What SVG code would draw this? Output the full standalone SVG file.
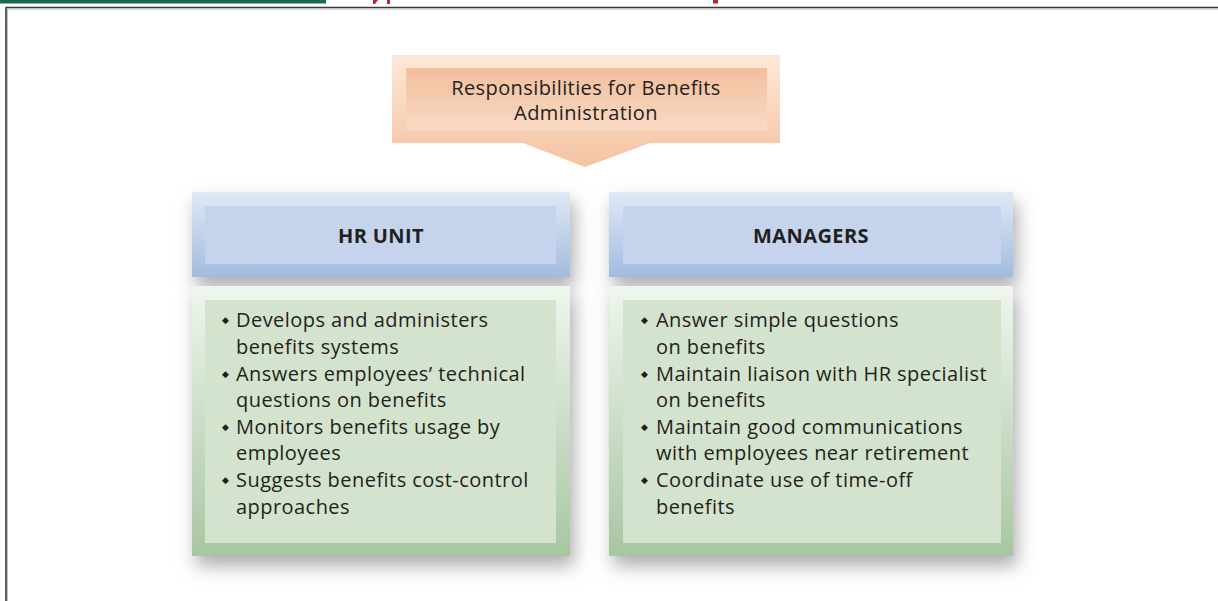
<svg xmlns="http://www.w3.org/2000/svg" width="1218" height="601" viewBox="0 0 1218 601">
<defs>
<style>
.t{font-family:"Open Sans","Liberation Sans",sans-serif;fill:#231f20}
.body{font-size:20px;letter-spacing:0.45px}
.hd{font-size:20px;font-weight:bold;text-anchor:middle;letter-spacing:0.4px}
.bul{font-family:"DejaVu Sans",sans-serif;font-size:9px;fill:#231f20}
</style>
<linearGradient id="gPeach" x1="0" y1="0" x2="0" y2="1">
<stop offset="0" stop-color="#fde8d8"/><stop offset="1" stop-color="#f4c3a1"/>
</linearGradient>
<linearGradient id="gPeachIn" x1="0" y1="0" x2="0" y2="1">
<stop offset="0" stop-color="#f3bf9c"/><stop offset="1" stop-color="#f8d9c4"/>
</linearGradient>
<linearGradient id="gBlue" x1="0" y1="0" x2="0" y2="1">
<stop offset="0" stop-color="#dfe9f5"/><stop offset="1" stop-color="#a2bcdf"/>
</linearGradient>
<linearGradient id="gGreen" x1="0" y1="0" x2="0" y2="1">
<stop offset="0" stop-color="#eff6ee"/><stop offset="1" stop-color="#a8c6a2"/>
</linearGradient>
<filter id="sh" x="-15%" y="-15%" width="135%" height="150%">
<feDropShadow dx="4" dy="10" stdDeviation="9" flood-color="#6b6b6b" flood-opacity="0.55"/>
</filter>
</defs>
<rect width="1218" height="601" fill="#ffffff"/>
<g id="frame">
<rect x="0" y="0" width="326" height="3.5" fill="#1a6b48"/>
<path d="M373,0 L378,0 L375,4 L373,4 Z" fill="#b5282e"/>
<rect x="387" y="0" width="3" height="4" fill="#b5282e"/>
<rect x="713" y="0" width="5" height="3.5" fill="#b5282e"/>
<path d="M6,601 L6,7.5 L1218,7.5" fill="none" stroke="#3a3a3a" stroke-width="1.6"/>
<path d="M7.5,601 L7.5,9 L1218,9" fill="none" stroke="#b0b0b0" stroke-width="0.8"/>
</g>
<g id="top">
<path d="M392,55 L780,55 L780,143 L650,143 L585,167 L523,143 L392,143 Z" fill="url(#gPeach)"/>
<rect x="406" y="68" width="361" height="62" fill="url(#gPeachIn)"/>
<text class="t" font-size="20" letter-spacing="0.4" text-anchor="middle"><tspan x="586" y="95">Responsibilities for Benefits</tspan><tspan x="586" y="120">Administration</tspan></text>
</g>
<g id="hr-header">
<rect x="192" y="192" width="378" height="85" fill="url(#gBlue)" filter="url(#sh)"/>
<rect x="205" y="206" width="351" height="58" fill="#c5d3ed"/>
<text class="t hd" x="381" y="243">HR UNIT</text>
</g>
<g id="mgr-header">
<rect x="609" y="192" width="404" height="85" fill="url(#gBlue)" filter="url(#sh)"/>
<rect x="623" y="206" width="378" height="58" fill="#c5d3ed"/>
<text class="t hd" x="811" y="243">MANAGERS</text>
</g>
<g id="hr-body">
<rect x="192" y="286" width="378" height="270" fill="url(#gGreen)" filter="url(#sh)"/>
<rect x="205" y="300" width="351" height="243" fill="#d4e3cd"/>
<text class="bul" x="222" y="323">◆</text>
<text class="bul" x="222" y="377">◆</text>
<text class="bul" x="222" y="430">◆</text>
<text class="bul" x="222" y="483">◆</text>
<text class="t body"><tspan x="236" y="327">Develops and administers</tspan><tspan x="236" y="354">benefits systems</tspan><tspan x="236" y="381">Answers employees’ technical</tspan><tspan x="236" y="407">questions on benefits</tspan><tspan x="236" y="434">Monitors benefits usage by</tspan><tspan x="236" y="460">employees</tspan><tspan x="236" y="487">Suggests benefits cost-control</tspan><tspan x="236" y="514">approaches</tspan></text>
</g>
<g id="mgr-body">
<rect x="609" y="286" width="404" height="270" fill="url(#gGreen)" filter="url(#sh)"/>
<rect x="623" y="300" width="378" height="243" fill="#d4e3cd"/>
<text class="bul" x="641" y="323">◆</text>
<text class="bul" x="641" y="377">◆</text>
<text class="bul" x="641" y="430">◆</text>
<text class="bul" x="641" y="483">◆</text>
<text class="t body"><tspan x="656" y="327">Answer simple questions</tspan><tspan x="656" y="354">on benefits</tspan><tspan x="656" y="381">Maintain liaison with HR specialist</tspan><tspan x="656" y="407">on benefits</tspan><tspan x="656" y="434">Maintain good communications</tspan><tspan x="656" y="460">with employees near retirement</tspan><tspan x="656" y="487">Coordinate use of time-off</tspan><tspan x="656" y="514">benefits</tspan></text>
</g>
<g id="connectors"></g>
</svg>
